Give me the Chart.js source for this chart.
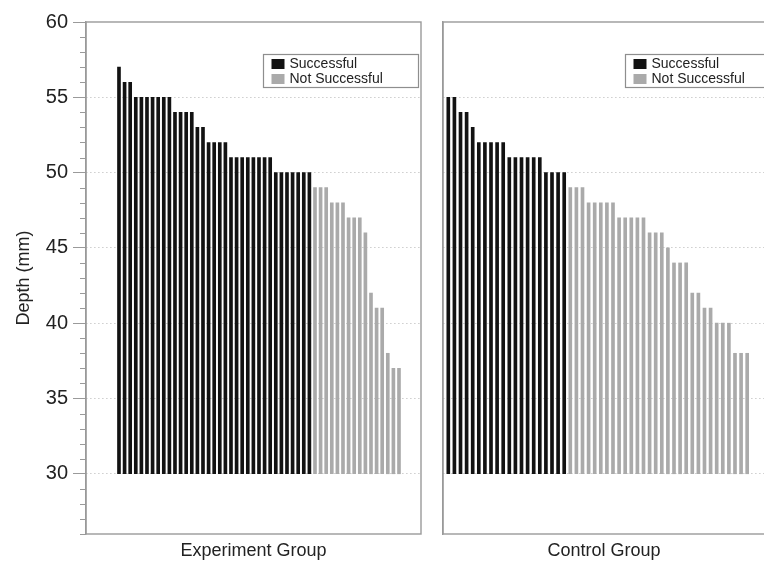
<!DOCTYPE html>
<html>
<head>
<meta charset="utf-8">
<title>Depth by group</title>
<script src="https://cdn.jsdelivr.net/npm/chart.js@4/dist/chart.umd.min.js"></script>
<style>
  html, body { margin: 0; padding: 0; background: #fff; overflow: hidden; width: 764px; height: 562px; }
  .panel { position: absolute; top: 0; }
  #panelA { left: 0; }
  #panelB { left: 435px; }
</style>
</head>
<body>
<div class="panel" id="panelA"><canvas id="expChart" width="430" height="562"></canvas></div>
<div class="panel" id="panelB"><canvas id="ctrlChart" width="360" height="562"></canvas></div>
<script>
// Depth values (mm), ordered from deepest to shallowest within each group
const expSuccessful = [57, 56, 56, 55, 55, 55, 55, 55, 55, 55, 54, 54, 54, 54, 53, 53,
  52, 52, 52, 52, 51, 51, 51, 51, 51, 51, 51, 51, 50, 50, 50, 50, 50, 50, 50];
const expNotSuccessful = [49, 49, 49, 48, 48, 48, 47, 47, 47, 46, 42, 41, 41, 38, 37, 37];
const ctrlSuccessful = [55, 55, 54, 54, 53, 52, 52, 52, 52, 52, 51, 51, 51, 51, 51, 51, 50, 50, 50, 50];
const ctrlNotSuccessful = [49, 49, 49, 48, 48, 48, 48, 48, 47, 47, 47, 47, 47, 46, 46, 46, 45,
  44, 44, 44, 42, 42, 41, 41, 40, 40, 40, 38, 38, 38];
const groupNames = ['Experiment Group', 'Control Group'];
const seriesNames = ['Successful', 'Not Successful'];
const yTickValues = [30, 35, 40, 45, 50, 55, 60];
const barBase = 30;

const FONT = "'Liberation Sans', Arial, Helvetica, sans-serif";
const INK = '#222222';
const FRAME = '#9a9a9a';
const GRID = '#b4b4b4';
const DARK = '#121212';
const LIGHT = '#aaaaaa';

// Bars run from the common base up to each depth; position = rank within the group
function toBars(successful, notSuccessful) {
  const s = successful.map((v, i) => ({ x: i + 1, y: [barBase, v] }));
  const n = notSuccessful.map((v, i) => ({ x: successful.length + i + 1, y: [barBase, v] }));
  return [s, n];
}

// Frame around the plot area, minor ticks on the depth axis and a boxed legend
const panelDecor = {
  id: 'panelDecor',
  afterDraw(chart, args, opts) {
    const { ctx, chartArea: a, scales: { y } } = chart;
    ctx.save();
    ctx.strokeStyle = FRAME;
    ctx.lineWidth = 1.4;
    ctx.strokeRect(a.left, a.top, a.right - a.left, a.bottom - a.top);
    if (opts.minorTicks) {
      ctx.lineWidth = 1;
      for (let v = Math.ceil(y.min); v <= y.max; v++) {
        if (v % 5 === 0) continue;
        const py = Math.round(y.getPixelForValue(v)) + 0.5;
        ctx.beginPath();
        ctx.moveTo(a.left - 6, py);
        ctx.lineTo(a.left, py);
        ctx.stroke();
      }
    }
    const lx = Math.round(a.left + opts.legendX) + 0.5;
    const ly = Math.round(a.top + opts.legendY) + 0.5;
    ctx.fillStyle = '#ffffff';
    ctx.fillRect(lx, ly, 155, 33);
    ctx.strokeStyle = '#8e8e8e';
    ctx.lineWidth = 1.2;
    ctx.strokeRect(lx, ly, 155, 33);
    const cols = [DARK, LIGHT];
    ctx.font = '14px ' + FONT;
    ctx.textBaseline = 'middle';
    ctx.textAlign = 'left';
    seriesNames.forEach((name, k) => {
      const cy = ly + 9.5 + k * 15;
      ctx.fillStyle = cols[k];
      ctx.fillRect(lx + 8, cy - 5, 13, 10);
      ctx.fillStyle = INK;
      ctx.fillText(name, lx + 26, cy + 0.5);
    });
    ctx.restore();
  }
};

function yAxis(showLabels) {
  return {
    min: 26,
    max: 60,
    afterBuildTicks: s => { s.ticks = yTickValues.map(v => ({ value: v })); },
    afterFit: s => { s.width = showLabels ? 86 : 0; },
    ticks: { display: showLabels, font: { family: FONT, size: 20 }, color: INK, padding: 5 },
    grid: {
      color: c => (c.tick && c.tick.value === 60) ? 'rgba(0,0,0,0)' : GRID,
      tickColor: FRAME,
      tickLength: 13,
      drawTicks: showLabels,
      lineWidth: 1
    },
    border: { color: FRAME, width: 1.4, dash: [1, 3] },
    title: {
      display: showLabels,
      text: 'Depth (mm)',
      font: { family: FONT, size: 18 },
      color: INK,
      padding: { top: 13, bottom: 0 }
    }
  };
}

function xAxis(title, min, max) {
  return {
    type: 'linear',
    min: min,
    max: max,
    offset: false,
    afterFit: s => { s.height = 28; },
    ticks: { display: false },
    grid: { display: false, drawTicks: false },
    border: { display: false },
    title: {
      display: true,
      text: title,
      font: { family: FONT, size: 18 },
      color: INK,
      padding: { top: 0, bottom: 0 }
    }
  };
}

function makeChart(id, successful, notSuccessful, title, xr, pad, showLabels, legendPos) {
  const [s, n] = toBars(successful, notSuccessful);
  return new Chart(document.getElementById(id), {
    type: 'bar',
    data: {
      datasets: [
        { label: seriesNames[0], data: s, backgroundColor: DARK, borderWidth: 0, barThickness: 3, grouped: false },
        { label: seriesNames[1], data: n, backgroundColor: LIGHT, borderWidth: 0, barThickness: 3, grouped: false }
      ]
    },
    options: {
      responsive: false,
      animation: false,
      devicePixelRatio: 1,
      layout: { padding: pad },
      scales: { x: xAxis(title, xr[0], xr[1]), y: yAxis(showLabels) },
      plugins: {
        legend: { display: false },
        tooltip: { enabled: false },
        panelDecor: { minorTicks: showLabels, legendX: legendPos[0], legendY: legendPos[1] }
      }
    },
    plugins: [panelDecor]
  });
}

makeChart('expChart', expSuccessful, expNotSuccessful, groupNames[0],
  [-4.89, 54.93], { top: 22, right: 9, bottom: 0, left: 0 }, true, [177, 32]);
makeChart('ctrlChart', ctrlSuccessful, ctrlNotSuccessful, groupNames[1],
  [0.13, 52.92], { top: 22, right: 30, bottom: 0, left: 8 }, false, [182, 32]);
</script>
</body>
</html>
